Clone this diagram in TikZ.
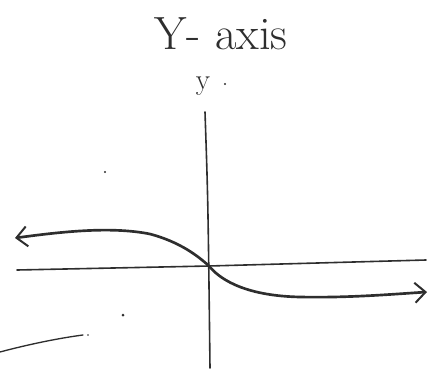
\documentclass[tikz,border=0pt]{standalone}
\usepackage{tikz}
\usetikzlibrary{arrows.meta}
\definecolor{ink}{HTML}{2E2E2E}
\tikzset{
  every picture/.style={line join=round, line cap=round},
  axisline/.style={ink, line width=1.2pt},
  curveline/.style={ink, line width=2pt},
  barb/.tip={Straight Barb[length=8pt, width=15pt, line width=1.5pt]},
  speck/.style={fill=ink, draw=none},
}
\begin{document}
\begin{tikzpicture}[x=0.75pt, y=-0.75pt]
\useasboundingbox (0,0) rectangle (433,375);
% title and axis label
\node[ink, font=\fontsize{35}{38}\selectfont] (title) at (221,34) {Y- axis};
\node[ink, font=\fontsize{22}{24}\selectfont] (ylab) at (203,86) {y};
% axes
\coordinate (ytop) at (205,112);
\coordinate (ybot) at (210,368);
\coordinate (xleft) at (17,270);
\coordinate (xright) at (426,260);
\coordinate (O) at (209,266);
\draw[axisline] (ytop) .. controls (208,200) .. (ybot);
\draw[axisline] (xleft) -- (O) -- (xright);
% the curve through the origin
\draw[curveline, barb-barb] (15,238) .. controls (60,232) and (110,226) .. (150,234)
  .. controls (180,242) and (198,256) .. (O)
  .. controls (222,282) and (250,296) .. (300,297)
  .. controls (350,298) and (395,294) .. (427,292);
% stray marks
\draw[ink, line width=1pt] (0,352) .. controls (30,344) and (60,338) .. (83,335);
\fill[speck] (123,315) circle (1.5);
\fill[speck] (105,172) circle (1.2);
\fill[speck] (225,84) circle (1.1);
\fill[speck] (88,335) circle (0.9);
\end{tikzpicture}
\end{document}
